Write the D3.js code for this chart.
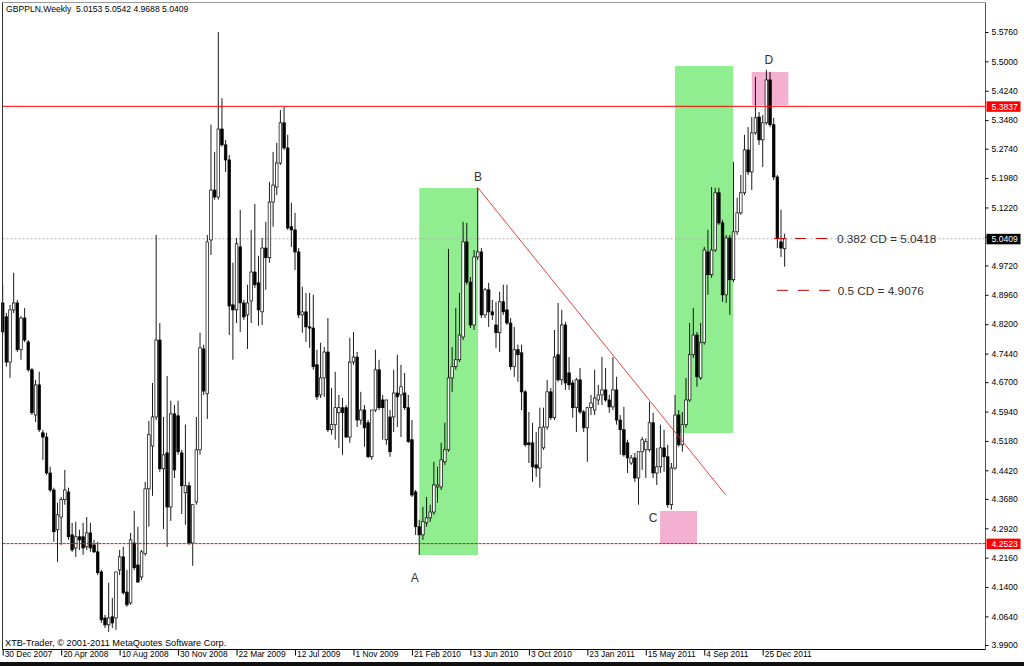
<!DOCTYPE html>
<html><head><meta charset="utf-8">
<script src="https://cdn.jsdelivr.net/npm/d3@7"></script>
<style>
body{margin:0;background:#fff}
svg{display:block}
text{font-family:"Liberation Sans",Arial,sans-serif}
</style>
</head><body>
<svg id="c" width="1024" height="666"></svg>
<script>
const titleText = "GBPPLN,Weekly  5.0153 5.0542 4.9688 5.0409";
const copyrightText = "XTB-Trader, \u00a9 2001-2011 MetaQuotes Software Corp.";
const dateLabels = ["30 Dec 2007","20 Apr 2008","10 Aug 2008","30 Nov 2008","22 Mar 2009","12 Jul 2009","1 Nov 2009","21 Feb 2010","13 Jun 2010","3 Oct 2010","23 Jan 2011","15 May 2011","4 Sep 2011","25 Dec 2011"];
const dateIndex = [0,16,32,48,64,80,96,112,128,144,160,176,192,208];
const yTickValues = [5.5760,5.5000,5.4240,5.3480,5.2740,5.1980,5.1220,5.0460,4.9720,4.8960,4.8200,4.7440,4.6700,4.5940,4.5180,4.4420,4.3680,4.2920,4.2160,4.1400,4.0640,3.9900];

const open = [4.875,4.839,4.722,4.857,4.875,4.754,4.836,4.774,4.702,4.585,
4.663,4.539,4.528,4.435,4.391,4.288,4.321,4.366,4.386,4.275,
4.241,4.270,4.270,4.244,4.280,4.249,4.231,4.179,4.060,4.042,
4.063,4.060,4.184,4.218,4.127,4.099,4.254,4.197,4.166,4.226,
4.394,4.505,4.580,4.779,4.446,4.487,4.347,4.588,4.583,4.487,
4.384,4.402,4.254,4.360,4.495,4.756,4.640,5.038,5.167,5.149,
5.325,5.284,5.245,4.870,4.857,5.020,4.875,4.844,4.880,4.955,
4.927,4.852,5.017,4.992,5.136,5.175,5.237,5.341,5.276,5.072,
5.064,5.007,4.844,4.852,4.813,4.810,4.715,4.637,4.681,4.748,
4.547,4.560,4.591,4.604,4.604,4.528,4.722,4.735,4.572,4.598,
4.565,4.477,4.598,4.702,4.624,4.521,4.580,4.580,4.642,4.637,
4.642,4.604,4.521,4.386,4.296,4.275,4.306,4.319,4.334,4.399,
4.399,4.464,4.495,4.681,4.710,4.728,4.787,5.033,4.929,4.818,
4.994,5.007,4.844,4.909,4.852,4.818,4.798,4.878,4.857,4.823,
4.710,4.754,4.746,4.645,4.513,4.513,4.456,4.448,4.500,4.554,
4.645,4.578,4.741,4.676,4.818,4.694,4.668,4.604,4.676,4.593,
4.552,4.604,4.598,4.624,4.637,4.650,4.624,4.606,4.650,4.572,
4.547,4.513,4.461,4.474,4.422,4.490,4.495,4.495,4.565,4.435,
4.451,4.500,4.477,4.353,4.448,4.585,4.508,4.560,4.624,4.741,
4.792,4.681,4.772,5.007,4.948,5.012,5.160,5.082,4.896,5.043,
4.935,5.059,5.108,5.160,5.271,5.214,5.315,5.356,5.297,5.341,
5.452,5.336,5.201,5.033,5.0153];
const high = [4.922,4.849,4.870,4.953,4.883,4.841,4.862,4.779,4.707,4.676,
4.697,4.547,4.539,4.451,4.397,4.358,4.373,4.443,4.397,4.306,
4.309,4.288,4.306,4.321,4.306,4.262,4.257,4.184,4.068,4.151,
4.112,4.107,4.236,4.244,4.184,4.280,4.337,4.296,4.236,4.412,
4.570,4.668,5.051,4.823,4.580,4.686,4.622,4.611,4.622,4.495,
4.560,4.412,4.353,4.580,4.798,4.767,5.051,5.336,5.266,5.576,
5.405,5.297,5.258,4.979,5.043,5.116,4.883,4.922,5.064,5.131,
4.997,5.043,5.085,5.188,5.266,5.289,5.374,5.382,5.310,5.134,
5.108,5.017,4.917,4.901,4.901,4.896,4.754,4.772,4.761,4.836,
4.655,4.697,4.637,4.629,4.611,4.785,4.800,4.748,4.645,4.611,
4.572,4.521,4.754,4.728,4.637,4.585,4.598,4.702,4.741,4.715,
4.694,4.637,4.572,4.391,4.314,4.347,4.373,4.353,4.464,4.451,
4.513,4.565,5.015,4.761,4.862,4.901,5.085,5.082,4.942,5.012,
5.173,5.017,4.914,4.927,4.883,4.878,4.904,4.922,4.922,4.836,
4.813,4.767,4.767,4.650,4.593,4.565,4.541,4.604,4.604,4.676,
4.655,4.805,4.875,4.857,4.826,4.735,4.676,4.681,4.707,4.598,
4.606,4.637,4.702,4.663,4.735,4.707,4.637,4.735,4.684,4.585,
4.606,4.521,4.482,4.487,4.443,4.528,4.525,4.619,4.591,4.500,
4.560,4.547,4.508,4.461,4.637,4.598,4.593,4.681,4.823,4.862,
4.800,4.823,5.020,5.064,5.175,5.173,5.173,5.090,5.051,5.051,
5.240,5.147,5.206,5.310,5.330,5.356,5.460,5.369,5.361,5.478,
5.473,5.354,5.206,5.116,5.0542];
const low = [4.792,4.710,4.681,4.849,4.748,4.728,4.774,4.697,4.585,4.567,
4.541,4.469,4.430,4.386,4.257,4.205,4.249,4.353,4.262,4.231,
4.218,4.236,4.223,4.236,4.231,4.228,4.171,4.047,4.034,4.024,
4.034,4.029,4.171,4.120,4.089,4.094,4.184,4.151,4.158,4.221,
4.296,4.376,4.572,4.438,4.290,4.244,4.311,4.422,4.482,4.329,
4.301,4.249,4.195,4.353,4.482,4.637,4.575,4.999,5.142,5.142,
5.279,5.214,4.792,4.728,4.823,4.800,4.831,4.756,4.823,4.914,
4.816,4.818,4.909,4.979,5.072,5.154,5.232,5.271,5.064,5.020,
4.960,4.836,4.798,4.774,4.759,4.702,4.624,4.629,4.632,4.541,
4.534,4.521,4.500,4.482,4.526,4.513,4.715,4.554,4.560,4.503,
4.474,4.469,4.593,4.598,4.521,4.508,4.477,4.541,4.554,4.528,
4.598,4.513,4.373,4.275,4.223,4.262,4.296,4.309,4.327,4.358,
4.391,4.456,4.490,4.645,4.702,4.722,4.779,4.922,4.810,4.805,
4.986,4.836,4.836,4.813,4.831,4.759,4.748,4.844,4.818,4.702,
4.684,4.671,4.598,4.503,4.461,4.412,4.425,4.397,4.495,4.547,
4.572,4.572,4.671,4.663,4.650,4.650,4.578,4.541,4.588,4.541,
4.464,4.585,4.585,4.611,4.611,4.619,4.591,4.598,4.560,4.482,
4.477,4.435,4.456,4.412,4.353,4.443,4.422,4.490,4.422,4.404,
4.435,4.438,4.345,4.340,4.443,4.503,4.490,4.552,4.619,4.733,
4.658,4.676,4.767,4.896,4.940,5.007,5.077,4.878,4.875,4.844,
4.929,5.051,5.103,5.154,5.206,5.167,5.310,5.284,5.227,5.336,
5.330,5.193,5.017,4.994,4.9688];
const close = [4.800,4.722,4.857,4.875,4.754,4.836,4.779,4.702,4.591,4.663,
4.547,4.528,4.435,4.391,4.283,4.327,4.366,4.391,4.270,4.236,
4.270,4.262,4.241,4.280,4.241,4.231,4.177,4.055,4.042,4.060,
4.047,4.179,4.218,4.125,4.094,4.262,4.190,4.153,4.231,4.394,
4.534,4.580,4.779,4.446,4.482,4.347,4.588,4.443,4.490,4.402,
4.402,4.254,4.353,4.495,4.759,4.647,5.033,5.167,5.149,5.325,
5.284,5.245,4.867,4.857,5.028,4.875,4.839,4.875,4.955,4.922,
4.857,5.017,4.992,5.136,5.180,5.237,5.341,5.276,5.069,5.064,
5.007,4.844,4.852,4.813,4.810,4.710,4.632,4.681,4.748,4.547,
4.560,4.604,4.604,4.591,4.528,4.722,4.735,4.572,4.598,4.552,
4.477,4.598,4.702,4.604,4.604,4.624,4.490,4.642,4.632,4.658,
4.604,4.516,4.378,4.296,4.275,4.309,4.319,4.334,4.404,4.404,
4.469,4.495,4.681,4.710,4.728,4.792,5.033,4.929,4.818,4.994,
5.007,4.844,4.909,4.852,4.844,4.798,4.878,4.852,4.823,4.710,
4.754,4.741,4.645,4.508,4.508,4.451,4.448,4.552,4.554,4.645,
4.578,4.735,4.676,4.818,4.668,4.663,4.604,4.676,4.593,4.552,
4.604,4.616,4.629,4.637,4.650,4.624,4.606,4.650,4.572,4.547,
4.482,4.474,4.474,4.422,4.490,4.521,4.516,4.565,4.435,4.451,
4.500,4.477,4.353,4.448,4.585,4.508,4.560,4.624,4.741,4.792,
4.684,4.772,5.012,4.948,5.012,5.160,5.082,4.896,5.043,4.935,
5.059,5.108,5.160,5.271,5.214,5.315,5.354,5.297,5.341,5.452,
5.336,5.201,5.043,5.017,5.0409];

const levelLines = [5.3837, 4.2523];
const bidPrice = 5.0409;
const greenZones = [{from:114.0,to:130.1,top:5.1724,bottom:4.2228},{from:184.0,to:199.9,top:5.488,bottom:4.5385}];
const pinkZones = [{from:179.9,to:190.0,top:4.3367,bottom:4.2513},{from:205.0,to:215.0,top:5.4725,bottom:5.3871}];
const trendLine = [{i:130.1,p:5.1724},{i:197.9,p:4.378}];
const fibLevels = [{label:"0.382 CD = 5.0418",value:5.0418,from:211.1,to:225.9,textAt:228.3},{label:"0.5 CD = 4.9076",value:4.9076,from:211.9,to:227.0,textAt:228.5}];
const pointLabels = [{name:"A",i:112.8,p:4.153},{name:"B",i:130.1,p:5.191},{name:"C",i:178.0,p:4.309},{name:"D",i:209.7,p:5.493}];

const bars = open.map((o,i)=>({i,o,h:high[i],l:low[i],c:close[i]}));

const svg = d3.select("#c");
const L=2.5, R=985.5, T=2.5, B=649.5;
const x = d3.scaleLinear().domain([0,214]).range([2.7, 2.7+214*3.654]);
const y = d3.scaleLinear().domain([3.99,5.576]).range([645,32]);

svg.append("rect").attr("width",1024).attr("height",666).attr("fill","#fff");

svg.append("g").selectAll("rect").data(greenZones).join("rect")
  .attr("x",d=>x(d.from)).attr("width",d=>x(d.to)-x(d.from))
  .attr("y",d=>y(d.top)).attr("height",d=>y(d.bottom)-y(d.top))
  .attr("fill","#90ee90");
svg.append("g").selectAll("rect").data(pinkZones).join("rect")
  .attr("x",d=>x(d.from)).attr("width",d=>x(d.to)-x(d.from))
  .attr("y",d=>y(d.top)).attr("height",d=>y(d.bottom)-y(d.top))
  .attr("fill","#f4b0d1");

svg.append("line").attr("x1",L).attr("x2",R).attr("y1",y(bidPrice)).attr("y2",y(bidPrice))
  .attr("stroke","#b0b0b0").attr("stroke-width",1).attr("stroke-dasharray","2,2");

const cg = svg.append("g");
cg.selectAll("line").data(bars).join("line")
  .attr("x1",d=>x(d.i)).attr("x2",d=>x(d.i))
  .attr("y1",d=>y(Math.max(d.h,d.o,d.c))).attr("y2",d=>y(Math.min(d.l,d.o,d.c)))
  .attr("stroke","#000").attr("stroke-width",0.9);
const bw = 2.6;
cg.selectAll("rect").data(bars).join("rect")
  .attr("x",d=>x(d.i)-bw/2).attr("width",bw)
  .attr("y",d=>y(Math.max(d.o,d.c)))
  .attr("height",d=>Math.max(0.8,Math.abs(y(d.o)-y(d.c))))
  .attr("fill",d=>d.c>=d.o?"#fff":"#000")
  .attr("stroke","#000").attr("stroke-width",0.7);

svg.append("g").selectAll("line").data(levelLines).join("line")
  .attr("x1",L).attr("x2",R).attr("y1",d=>y(d)).attr("y2",d=>y(d))
  .attr("stroke","#ff0000").attr("stroke-width",1)
  .attr("stroke-dasharray",(d,i)=>i===1?"3,1":null);

svg.append("line").attr("x1",x(trendLine[0].i)).attr("y1",y(trendLine[0].p))
  .attr("x2",x(trendLine[1].i)).attr("y2",y(trendLine[1].p))
  .attr("stroke","#e03030").attr("stroke-width",0.9);

const fg = svg.append("g");
fg.selectAll("line").data(fibLevels).join("line")
  .attr("x1",d=>x(d.from)).attr("x2",d=>x(d.to)).attr("y1",d=>y(d.value)).attr("y2",d=>y(d.value))
  .attr("stroke","#cc0000").attr("stroke-width",1).attr("stroke-dasharray","11,10");
fg.selectAll("text").data(fibLevels).join("text")
  .attr("x",d=>x(d.textAt)).attr("y",d=>y(d.value)+4.5)
  .attr("font-size","11.8px").attr("fill","#333").text(d=>d.label);

svg.append("g").selectAll("text").data(pointLabels).join("text")
  .attr("x",d=>x(d.i)).attr("y",d=>y(d.p)).attr("text-anchor","middle")
  .attr("font-size","12px").attr("fill","#333").text(d=>d.name);

svg.append("line").attr("x1",L).attr("x2",R).attr("y1",T).attr("y2",T).attr("stroke","#999");
svg.append("line").attr("x1",L).attr("x2",L).attr("y1",T).attr("y2",B).attr("stroke","#333");
svg.append("line").attr("x1",L).attr("x2",R).attr("y1",B).attr("y2",B).attr("stroke","#000");
svg.append("line").attr("x1",R).attr("x2",R).attr("y1",T).attr("y2",B).attr("stroke","#555");

const ya = svg.append("g").attr("transform",`translate(${R},0)`)
  .call(d3.axisRight(y).tickValues(yTickValues).tickSize(3).tickPadding(3).tickFormat(d3.format(".4f")));
ya.select(".domain").remove();
ya.selectAll("line").attr("stroke","#000");
ya.selectAll("text").attr("font-size","8.6px").attr("fill","#000").attr("font-family","Liberation Sans, Arial, sans-serif");

const boxes = [{v:levelLines[0],bg:"#ff0000"},{v:levelLines[1],bg:"#ff0000"},{v:bidPrice,bg:"#000"}];
const bgp = svg.append("g");
bgp.selectAll("rect").data(boxes).join("rect")
  .attr("x",R+1).attr("width",34).attr("y",d=>y(d.v)-5).attr("height",10.5).attr("fill",d=>d.bg);
bgp.selectAll("text").data(boxes).join("text")
  .attr("x",R+6).attr("y",d=>y(d.v)+3.3).attr("font-size","8.6px").attr("fill","#fff")
  .text(d=>d3.format(".4f")(d.v));

const xa = svg.append("g").attr("transform",`translate(0,${B})`)
  .call(d3.axisBottom(x).tickValues(dateIndex).tickSize(6).tickFormat((d,i)=>dateLabels[i]));
xa.select(".domain").remove();
xa.selectAll("line").attr("stroke","#000");
xa.selectAll("text").attr("text-anchor","start").attr("x",1.5).attr("y",2)
  .attr("font-size","8.4px").attr("fill","#000").attr("font-family","Liberation Sans, Arial, sans-serif");

svg.append("rect").attr("x",0).attr("y",662).attr("width",1024).attr("height",4).attr("fill","#111");

svg.append("text").attr("x",6).attr("y",12).attr("font-size","8.6px").attr("fill","#000")
  .style("white-space","pre").text(titleText);
svg.append("text").attr("x",5).attr("y",645.5).attr("font-size","9.2px").attr("fill","#000")
  .text(copyrightText);
</script>
</body></html>
